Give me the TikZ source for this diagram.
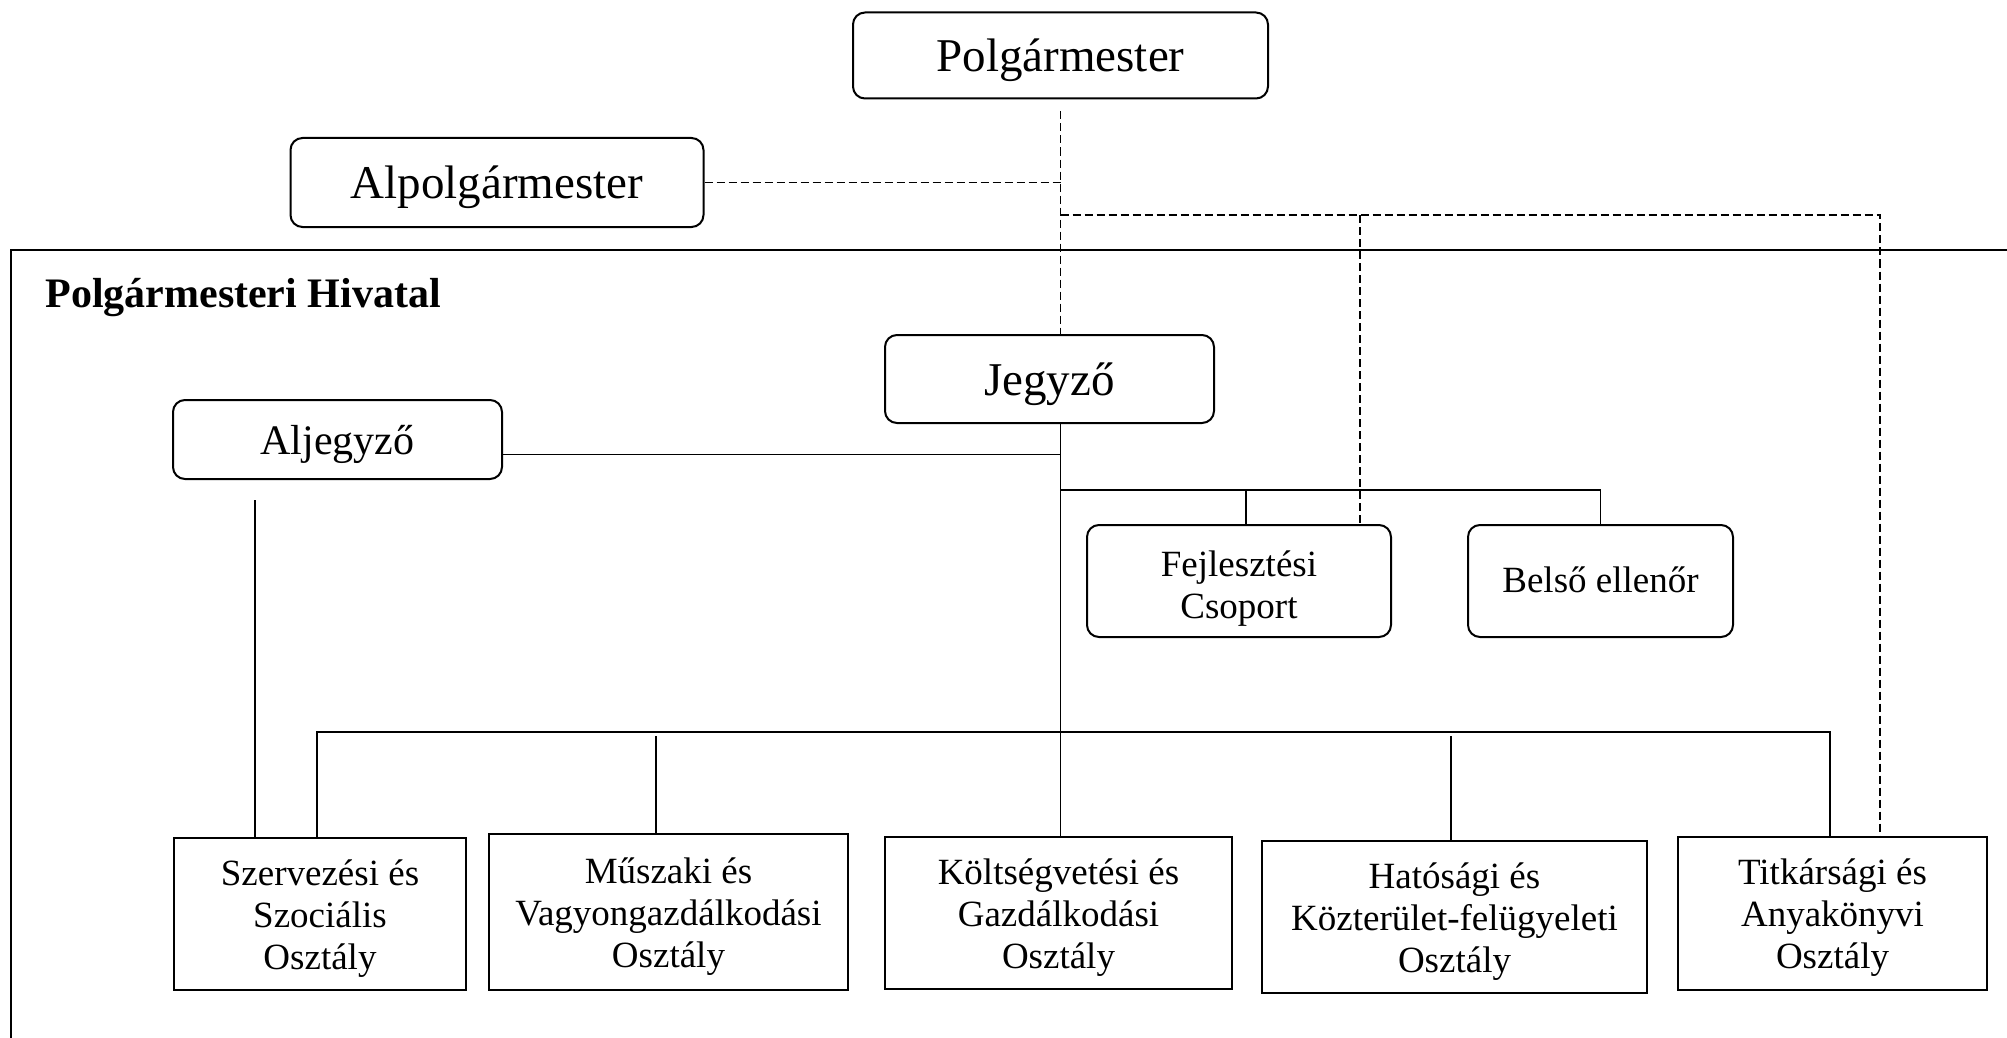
\documentclass[tikz,border=0pt]{standalone}
\usepackage{fontspec}
\setmainfont{Liberation Serif}
\newcommand{\stacklines}[1]{\begin{tabular}[t]{@{}c@{}}#1\end{tabular}}
\tikzset{
  roundbox/.style={draw, rounded corners=6pt, line width=1pt, inner sep=0pt},
  bigtext/.style={font=\fontsize{23.5}{28}\selectfont, text height=21pt, text depth=5pt},
  midtext/.style={font=\fontsize{21}{25}\selectfont, text height=20pt, text depth=5pt},
  smalltext/.style={font=\fontsize{18.5}{21}\selectfont},
  deptbox/.style={draw, line width=1.3pt, inner sep=0pt, smalltext, text height=15pt, text depth=44pt},
  link/.style={line width=0.85pt},
  dashlink/.style={line width=0.9pt, dash pattern=on 4pt off 2pt},
}
\begin{document}
\begin{tikzpicture}[x=0.5pt, y=-0.5pt]
  \useasboundingbox (0, 0) rectangle (2007, 1038);
  % frame of the office
  \draw[line width=0.9pt] (2007, 250) -- (11, 250) -- (11, 1038);
  \node[anchor=base west, inner sep=0pt, font=\bfseries\fontsize{21}{25}\selectfont] (hivatal) at (45, 307) {Polgármesteri Hivatal};

  % leaders
  \node[roundbox, bigtext, minimum width=207.5pt, minimum height=43pt] (polg) at (1060.5, 55.5) {Polgármester};
  \node[roundbox, bigtext, minimum width=206.5pt, minimum height=44.5pt] (alpolg) at (497, 182.5) {Alpolgármester};
  \node[roundbox, bigtext, minimum width=164.5pt, minimum height=44pt] (jegyzo) at (1049.5, 379) {Jegyző};
  \node[roundbox, midtext, minimum width=164.5pt, minimum height=39.5pt] (aljegyzo) at (337.5, 439.5) {Aljegyző};
  \node[roundbox, smalltext, text height=15pt, text depth=20pt, minimum width=152pt, minimum height=56pt] (fejl) at (1239, 581) {\stacklines{Fejlesztési\\Csoport}};
  \node[roundbox, smalltext, text height=15pt, text depth=4pt, minimum width=132.5pt, minimum height=56pt] (belso) at (1600.5, 581) {Belső ellenőr};

  % departments
  \node[deptbox, minimum width=146pt, minimum height=76pt] (szerv) at (320, 914) {\stacklines{Szervezési és\\Szociális\\Osztály}};
  \node[deptbox, minimum width=179.5pt, minimum height=78pt] (musz) at (668.5, 912) {\stacklines{Műszaki és\\Vagyongazdálkodási\\Osztály}};
  \node[deptbox, minimum width=173.5pt, minimum height=76pt] (kolt) at (1058.5, 913) {\stacklines{Költségvetési és\\Gazdálkodási\\Osztály}};
  \node[deptbox, minimum width=192.5pt, minimum height=76pt] (hat) at (1454.5, 917) {\stacklines{Hatósági és\\Közterület-felügyeleti\\Osztály}};
  \node[deptbox, minimum width=154.5pt, minimum height=76.5pt] (titk) at (1832.5, 913.5) {\stacklines{Titkársági és\\Anyakönyvi\\Osztály}};

  % dashed lines of the mayor
  \coordinate (polgdash) at ([yshift=-6pt]polg.south);
  \coordinate (dashsplit) at (1060.5, 215);
  \coordinate (dashfejl) at (1360, 215);
  \coordinate (dashend) at (1880, 215);
  \draw[dashlink] (polgdash) -- (polgdash |- jegyzo.north);
  \draw[dashlink] (alpolg.east) -- (alpolg.east -| polg.south);
  \draw[dashlink] (dashsplit) -- (dashend) -- (dashend |- titk.north);
  \draw[dashlink] (dashfejl) -- (dashfejl |- fejl.north);

  % solid lines of the notary
  \coordinate (spine) at (1060.5, 423);
  \coordinate (aljout) at ([yshift=-7.5pt]aljegyzo.east);
  \coordinate (aljdown) at (255, 500);
  \coordinate (topbus) at (1060.5, 490);
  \coordinate (fejlup) at (1246, 490);
  \coordinate (lowbus) at (317, 732);
  \coordinate (lowbusend) at (1830, 732);
  \coordinate (muszup) at (656, 736);
  \coordinate (hatup) at (1451, 736);
  \draw[link] (spine) -- (spine |- kolt.north);
  \draw[link] (aljout) -- (aljout -| spine);
  \draw[link] (topbus) -- (topbus -| belso.north) -- (belso.north);
  \draw[link] (fejlup) -- (fejlup |- fejl.north);
  \draw[link] (aljdown) -- (aljdown |- szerv.north);
  \draw[link] (lowbus |- szerv.north) -- (lowbus) -- (lowbusend) -- (lowbusend |- titk.north);
  \draw[link] (muszup) -- (muszup |- musz.north);
  \draw[link] (hatup) -- (hatup |- hat.north);
\end{tikzpicture}
\end{document}
